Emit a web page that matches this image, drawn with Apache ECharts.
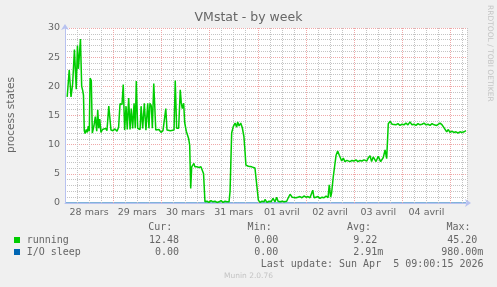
<!DOCTYPE html>
<html><head><meta charset="utf-8">
<script src="https://cdn.jsdelivr.net/npm/echarts@6/dist/echarts.min.js"></script>
<style>html,body{margin:0;padding:0;background:#f0f0f0}#c{width:497px;height:287px}</style>
</head><body><div id="c"></div>
<script>
// hours since 28 mars 00:00
const runHours = [1.1,2.1,3.0,3.8,4.7,5.6,6.2,6.7,7.7,8.3,8.8,9.2,9.6,10.0,10.6,11.1,11.6,12.1,12.5,13.1,13.6,14.4,15.1,15.8,16.3,16.8,17.3,17.9,18.7,19.4,20.2,20.9,21.8,22.4,22.9,23.9,24.9,25.9,26.7,27.4,28.4,29.0,29.7,30.4,31.0,31.7,32.4,33.0,33.7,34.4,35.0,35.5,36.2,36.9,37.4,37.9,38.7,39.5,40.3,41.2,41.8,42.3,43.0,43.5,44.2,44.7,45.2,46.0,46.8,47.8,48.8,49.3,50.2,50.8,51.6,52.5,53.3,54.3,54.9,55.6,56.6,57.4,57.9,58.4,59.1,59.6,60.4,60.9,61.6,62.1,62.6,63.1,63.7,64.2,64.7,65.7,66.7,67.7,68.6,69.0,69.7,70.7,71.7,72.7,73.7,74.7,75.7,76.7,77.7,78.7,79.7,80.7,81.7,82.2,83.0,83.8,84.7,85.5,86.0,86.7,87.5,88.3,89.1,89.6,90.1,91.3,93.0,94.6,95.5,96.3,97.1,98.1,99.1,99.6,100.6,101.6,102.6,103.6,104.6,105.4,106.1,107.1,108.1,109.1,110.4,111.2,112.1,113.1,114.0,115.0,116.0,117.0,118.0,119.0,120.0,121.0,122.0,123.4,124.0,125.0,126.0,127.0,128.0,129.0,130.0,131.0,131.6,132.3,132.8,133.6,135.0,135.8,136.6,137.8,138.6,139.4,140.4,141.1,141.9,142.9,143.9,144.9,145.9,146.9,147.9,148.9,150.3,151.0,151.9,152.7,153.5,154.4,154.9,156.0,157.2,158.5,159.4,160.2,161.0,161.9,162.9,163.8,164.8,165.8,166.8,167.8,168.8,169.8,170.8,171.8,172.8,173.8,174.8,175.8,176.8,177.8,178.8,179.8,180.8,181.8,182.8,183.8,185.1,185.8,186.8,187.8,188.7,190.1,190.9,191.7,192.7,193.7,194.7,195.7,196.7,197.7,198.7,199.7];
const runValues = [18.2,22.8,18.2,20.4,26.3,19.5,27.0,23.0,28.1,20.0,19.3,18.5,12.4,11.9,12.6,12.1,13.2,12.3,21.4,21.0,12.0,13.2,14.8,12.3,16.0,12.8,14.4,12.1,12.6,12.3,12.8,12.4,16.6,16.8,12.5,12.4,12.7,12.3,13.0,17.0,16.9,20.3,12.5,16.6,12.6,18.0,12.6,16.2,12.8,17.1,12.8,20.9,12.8,12.5,12.6,16.6,12.8,17.1,12.5,17.1,12.8,17.1,16.6,12.8,20.5,16.6,12.5,12.3,12.6,12.1,12.4,12.2,16.2,12.5,12.6,12.4,12.7,12.5,21.0,12.8,12.8,19.4,17.2,16.2,17.1,13.8,12.3,12.0,11.0,9.9,2.5,6.2,6.1,6.8,6.2,6.2,6.1,6.2,6.1,5.0,0.2,0.3,0.1,0.4,0.2,0.3,0.1,0.2,0.4,0.1,0.3,0.2,0.2,2.0,12.0,13.1,13.7,13.0,13.9,13.2,13.7,12.9,11.4,9.1,6.5,6.3,6.2,6.0,6.1,0.5,0.1,0.3,0.2,0.6,0.1,0.3,0.2,0.8,0.2,1.0,0.3,0.2,0.3,0.2,0.3,0.9,1.5,1.0,1.2,0.9,1.0,1.1,0.9,1.2,1.0,1.1,0.9,2.2,0.9,1.0,1.1,0.8,1.0,0.9,1.2,0.9,3.1,1.0,1.8,4.5,8.2,8.9,8.2,7.2,7.7,7.1,7.3,7.4,7.1,7.3,7.2,7.4,7.1,7.3,7.2,7.4,7.2,7.7,8.1,7.1,7.9,7.6,7.1,8.0,7.1,7.8,9.1,7.6,13.6,14.0,13.5,13.6,13.4,13.6,13.3,13.5,13.4,13.7,13.4,13.9,13.4,13.5,13.3,13.6,13.4,13.5,13.7,13.4,13.5,13.3,13.6,13.4,13.3,13.5,13.7,13.4,13.4,12.2,12.6,12.1,12.3,12.1,12.2,12.0,12.2,12.1,12.2,12.4];
const ioHours = [0.5,40.3,40.8,41.3,86.1,86.6,87.1,128.0,128.5,129.0,157.4,157.9,158.4,193.7,194.2,194.7,199.7];
const ioValues = [0,0,0.25,0,0,0.25,0,0,0.25,0,0,0.25,0,0,0.25,0,0];

const dayLabelHours = [12,36,60,84,108,132,156,180];
const dayLabels = ['28 mars','29 mars','30 mars','31 mars','01 avril','02 avril','03 avril','04 avril'];

const seriesNames = ['running','I/O sleep'];
const seriesColors = ['#00cc00','#0066b3'];
const curVals = ['12.48','0.00'];
const minVals = ['0.00','0.00'];
const avgVals = ['9.22','2.91'];
const avgUnits = ['','m'];
const maxVals = ['45.20','980.00'];
const maxUnits = ['','m'];
const lastUpdate = 'Last update: Sun Apr  5 09:00:15 2026';

const FONT = '#666';
const SANS = 'DejaVu Sans';
const MONO = 'DejaVu Sans Mono';
const AXIS = '#b8c2f0';
const MGRID = '#efa8a8';
const GRID = '#c4c4c4';

function txt(x, y, text, opts) {
  opts = opts || {};
  const align = opts.align || 'left';
  return {
    type: 'text', x: x, y: y, rotation: opts.rotation || 0, silent: true,
    style: {
      text: text, fill: opts.fill || FONT,
      font: (opts.size || 10) + 'px "' + (opts.family || MONO) + '"',
      textAlign: align, align: align,
      textVerticalAlign: 'middle', verticalAlign: 'middle'
    }
  };
}

const graphics = [];
graphics.push(txt(11, 115, 'process states', {family: SANS, size: 10.5, align: 'center', rotation: Math.PI / 2}));
graphics.push(txt(489.5, 5, 'RRDTOOL / TOBI OETIKER', {family: SANS, size: 7.5, fill: '#c4c4c4', rotation: -Math.PI / 2}));
graphics.push(txt(172.3, 227.5, 'Cur:', {align: 'right'}));
graphics.push(txt(271.7, 227.5, 'Min:', {align: 'right'}));
graphics.push(txt(371, 227.5, 'Avg:', {align: 'right'}));
graphics.push(txt(470.5, 227.5, 'Max:', {align: 'right'}));
seriesNames.forEach(function (name, i) {
  const y = 240 + i * 12;
  graphics.push({type: 'rect', silent: true, shape: {x: 14, y: y - 3, width: 6, height: 6}, style: {fill: seriesColors[i]}});
  graphics.push(txt(26.7, y, name));
  graphics.push(txt(179, y, curVals[i], {align: 'right'}));
  graphics.push(txt(278.3, y, minVals[i], {align: 'right'}));
  graphics.push(txt(377.3, y, avgVals[i], {align: 'right'}));
  if (avgUnits[i]) graphics.push(txt(377.3, y, avgUnits[i]));
  graphics.push(txt(477.3, y, maxVals[i], {align: 'right'}));
  if (maxUnits[i]) graphics.push(txt(477.3, y, maxUnits[i]));
});
graphics.push(txt(483.5, 264, lastUpdate, {align: 'right'}));
graphics.push(txt(248.5, 276.3, 'Munin 2.0.76', {family: SANS, size: 7.5, fill: '#c4c4c4', align: 'center'}));

const chart = echarts.init(document.getElementById('c'), null, {renderer: 'canvas', width: 497, height: 287});
chart.setOption({
  backgroundColor: '#f0f0f0',
  animation: false,
  title: {text: 'VMstat - by week', left: 'center', top: 11, padding: 0,
    textStyle: {fontFamily: SANS, fontSize: 12.5, fontWeight: 'normal', color: FONT}},
  grid: {left: 65, top: 28, width: 402, height: 175, show: true, backgroundColor: '#ffffff', borderWidth: 0},
  xAxis: {type: 'value', min: 0, max: 200.2, interval: 6, position: 'bottom', z: 3,
    axisLine: {show: true, onZero: false, lineStyle: {color: AXIS, width: 1}, symbol: ['none', 'arrow'], symbolSize: [6, 6], symbolOffset: [0, 4]},
    axisTick: {show: false},
    axisLabel: {customValues: dayLabelHours, formatter: function (v) { const k = dayLabelHours.indexOf(v); return k >= 0 ? dayLabels[k] : ''; },
      fontFamily: SANS, fontSize: 9.5, color: FONT, margin: 5},
    splitLine: {show: true, lineStyle: {color: [MGRID, GRID, GRID, GRID], width: 1, type: [1, 1]}}
  },
  yAxis: {type: 'value', min: 0, max: 30, interval: 5, z: 3,
    axisLine: {show: true, onZero: false, lineStyle: {color: AXIS, width: 1}, symbol: ['none', 'arrow'], symbolSize: [6, 6], symbolOffset: [0, 4]},
    axisTick: {show: false},
    axisLabel: {fontFamily: SANS, fontSize: 9.5, color: FONT, margin: 5},
    splitLine: {show: true, lineStyle: {color: MGRID, width: 1, type: [1, 1]}},
    minorTick: {show: false, splitNumber: 5},
    minorSplitLine: {show: true, lineStyle: {color: GRID, width: 1, type: [1, 1]}}
  },
  series: [
    {name: seriesNames[0], type: 'line', showSymbol: false, symbol: 'none',
      data: runHours.map(function (h, i) { return [h, runValues[i]]; }),
      lineStyle: {color: seriesColors[0], width: 1.5}, z: 4},
    {name: seriesNames[1], type: 'line', showSymbol: false, symbol: 'none',
      data: ioHours.map(function (h, i) { return [h, ioValues[i]]; }),
      lineStyle: {color: seriesColors[1], width: 1}, z: 1}
  ],
  graphic: graphics
});
</script></body></html>
